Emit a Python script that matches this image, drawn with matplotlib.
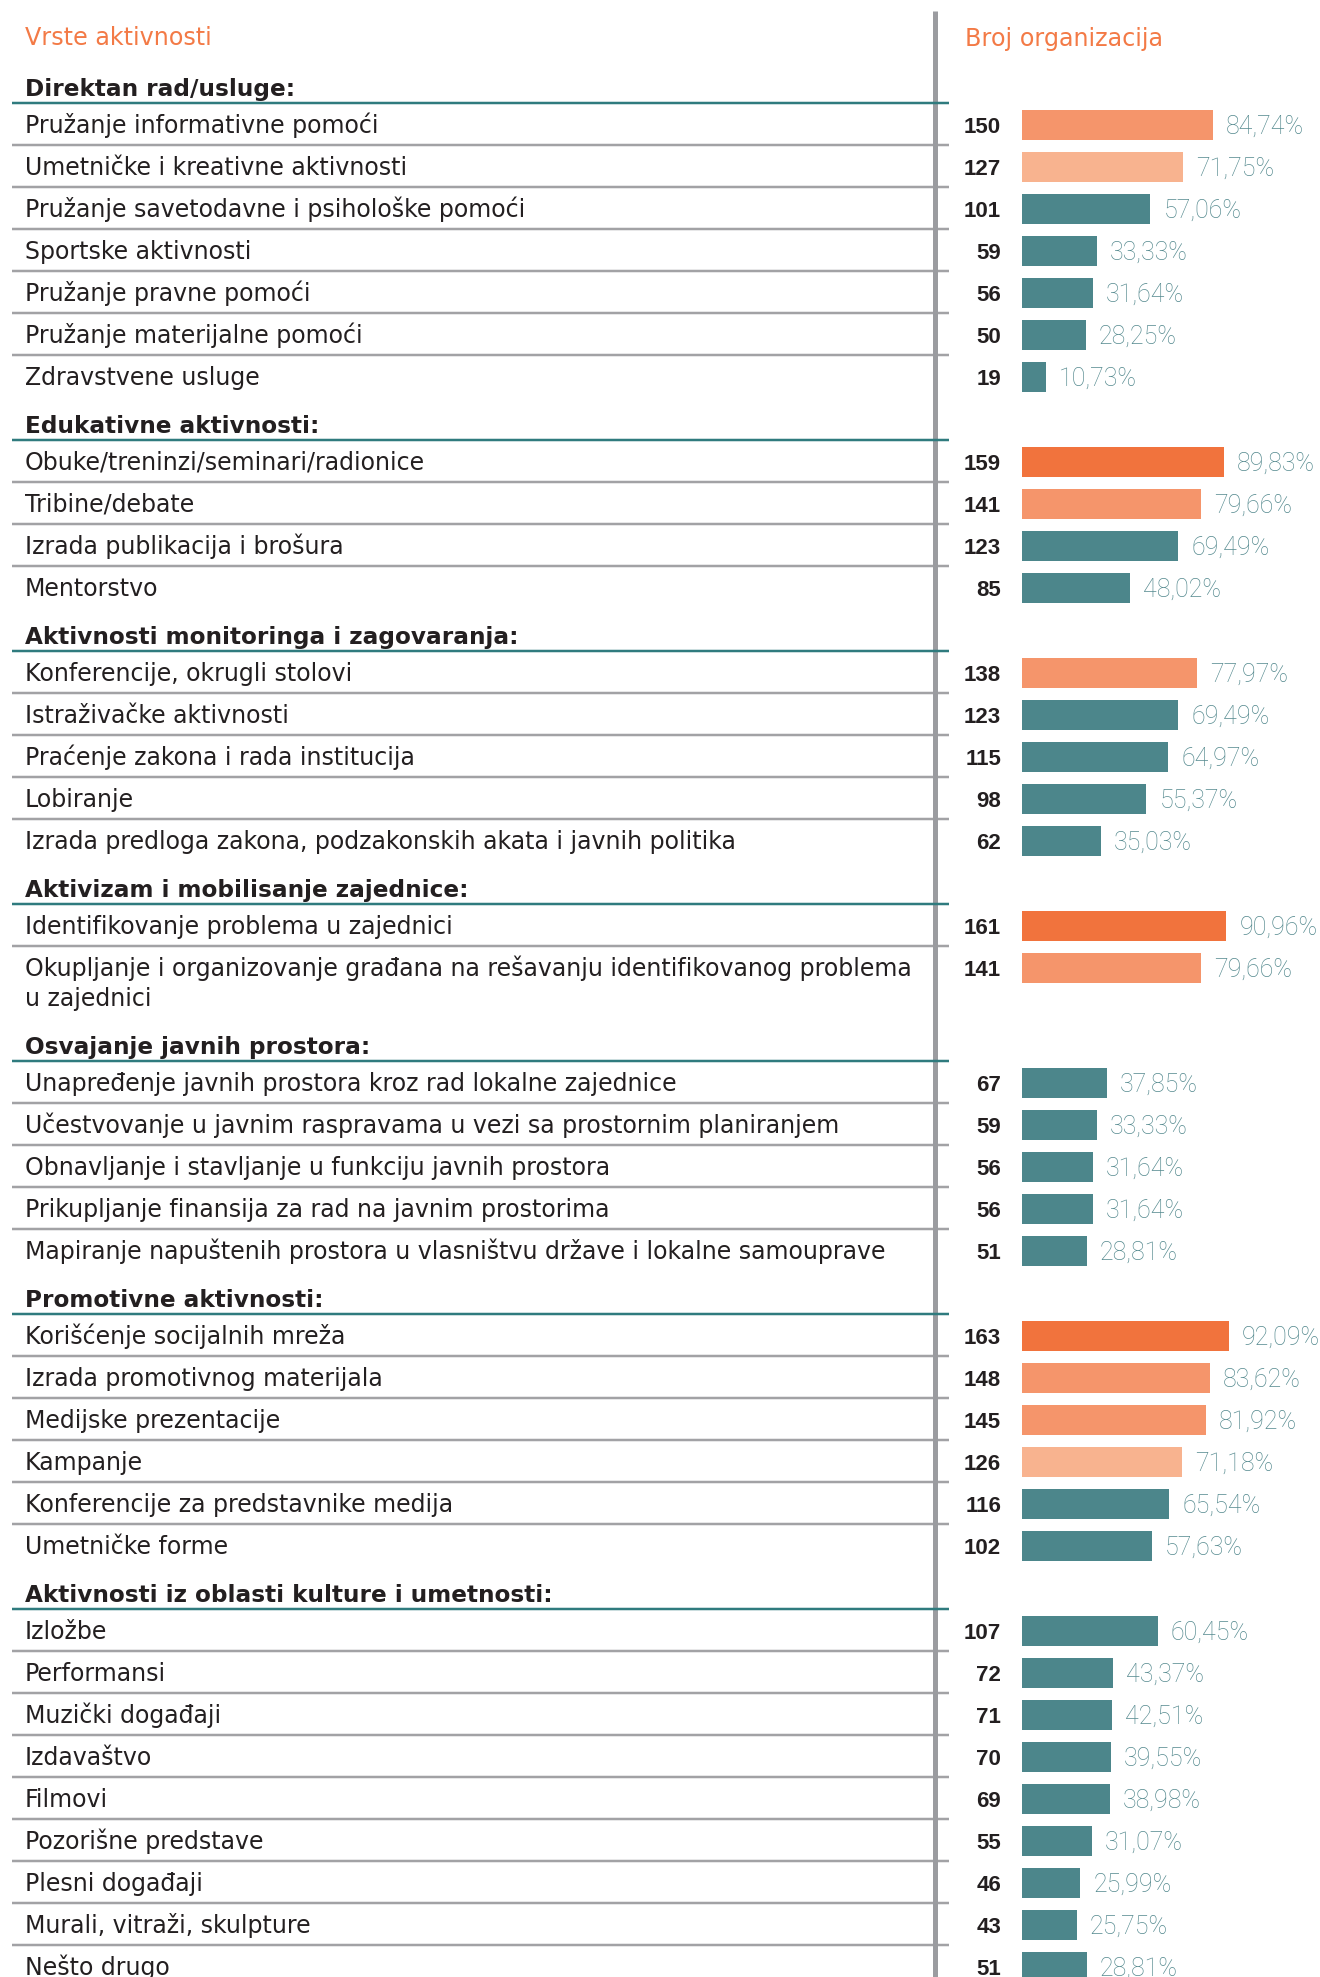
import matplotlib
matplotlib.use("Agg")
import matplotlib.pyplot as plt

# ---------------- data ----------------
group_titles = [
    "Direktan rad/usluge:",
    "Edukativne aktivnosti:",
    "Aktivnosti monitoringa i zagovaranja:",
    "Aktivizam i mobilisanje zajednice:",
    "Osvajanje javnih prostora:",
    "Promotivne aktivnosti:",
    "Aktivnosti iz oblasti kulture i umetnosti:",
]
group_sizes = [7, 4, 5, 2, 5, 6, 9]

activities = [
    "Pružanje informativne pomoći",
    "Umetničke i kreativne aktivnosti",
    "Pružanje savetodavne i psihološke pomoći",
    "Sportske aktivnosti",
    "Pružanje pravne pomoći",
    "Pružanje materijalne pomoći",
    "Zdravstvene usluge",
    "Obuke/treninzi/seminari/radionice",
    "Tribine/debate",
    "Izrada publikacija i brošura",
    "Mentorstvo",
    "Konferencije, okrugli stolovi",
    "Istraživačke aktivnosti",
    "Praćenje zakona i rada institucija",
    "Lobiranje",
    "Izrada predloga zakona, podzakonskih akata i javnih politika",
    "Identifikovanje problema u zajednici",
    "Okupljanje i organizovanje građana na rešavanju identifikovanog problema\nu zajednici",
    "Unapređenje javnih prostora kroz rad lokalne zajednice",
    "Učestvovanje u javnim raspravama u vezi sa prostornim planiranjem",
    "Obnavljanje i stavljanje u funkciju javnih prostora",
    "Prikupljanje finansija za rad na javnim prostorima",
    "Mapiranje napuštenih prostora u vlasništvu države i lokalne samouprave",
    "Korišćenje socijalnih mreža",
    "Izrada promotivnog materijala",
    "Medijske prezentacije",
    "Kampanje",
    "Konferencije za predstavnike medija",
    "Umetničke forme",
    "Izložbe",
    "Performansi",
    "Muzički događaji",
    "Izdavaštvo",
    "Filmovi",
    "Pozorišne predstave",
    "Plesni događaji",
    "Murali, vitraži, skulpture",
    "Nešto drugo",
]

counts = [150, 127, 101, 59, 56, 50, 19,
          159, 141, 123, 85,
          138, 123, 115, 98, 62,
          161, 141,
          67, 59, 56, 56, 51,
          163, 148, 145, 126, 116, 102,
          107, 72, 71, 70, 69, 55, 46, 43, 51]

percents = [84.74, 71.75, 57.06, 33.33, 31.64, 28.25, 10.73,
            89.83, 79.66, 69.49, 48.02,
            77.97, 69.49, 64.97, 55.37, 35.03,
            90.96, 79.66,
            37.85, 33.33, 31.64, 31.64, 28.81,
            92.09, 83.62, 81.92, 71.18, 65.54, 57.63,
            60.45, 43.37, 42.51, 39.55, 38.98, 31.07, 25.99, 25.75, 28.81]

col_title = "Vrste aktivnosti"
col_count = "Broj organizacija"

# ---------------- styles ----------------
W, H = 1320, 1977
DPI = 100
TXT = "#231f20"
ORANGE_T = "#f37a46"
TEAL_LINE = "#2f7b7e"
GRAY_LINE = "#a2a2a5"
VLINE = "#9b9ca0"
PCT_COL = "#54898e"
BODY_FONT = ["DejaVu Sans"]
NUM_FONT = ["Liberation Sans", "DejaVu Sans"]
PCT_FONT = ["Roboto", "DejaVu Sans"]
BODY_SIZE = 17.0
HEAD_SIZE = 16.7


def bar_color(v):
    if v >= 155:
        return "#f1733d"
    if v >= 135:
        return "#f5956b"
    if v >= 125:
        return "#f8b38f"
    return "#4c868b"


PX = 0.72  # points per pixel at 100 dpi
ROW_H = 42
LINE_EXTRA = 30
HEAD_GAP = 43
FIRST_T = 103
BAR_X0 = 1022
PX_PER_UNIT = 1.27

fig = plt.figure(figsize=(W / DPI, H / DPI), dpi=DPI)
fig.patch.set_facecolor("white")

ax = fig.add_axes([0, 0, 1, 1])
ax.set_xlim(0, W)
ax.set_ylim(H, 0)
ax.axis("off")

axb = fig.add_axes([BAR_X0 / W, 0, (W - BAR_X0) / W, 1])
axb.set_xlim(0, (W - BAR_X0) / PX_PER_UNIT)
axb.set_ylim(H, 0)
axb.axis("off")

# column titles
ax.text(25, 45, col_title, color=ORANGE_T, fontsize=17.2, family=BODY_FONT,
        ha="left", va="baseline")
ax.text(965, 46, col_count, color=ORANGE_T, fontsize=17.2, family=BODY_FONT,
        ha="left", va="baseline")

# vertical separator
ax.plot([935, 935], [11, H], color=VLINE, lw=5 * PX, solid_capstyle="butt", zorder=2)

T = FIRST_T
idx = 0
for g, title in enumerate(group_titles):
    ax.text(25, T - 7, title, color=TXT, fontsize=HEAD_SIZE, fontweight="bold",
            family=BODY_FONT, ha="left", va="baseline")
    ax.plot([12, 949], [T, T], color=TEAL_LINE, lw=2.5 * PX,
            solid_capstyle="butt", zorder=3)
    top = T
    n = group_sizes[g]
    for k in range(n):
        label = activities[idx]
        lines = label.split("\n")
        for li, line in enumerate(lines):
            ax.text(25, top + 30 + LINE_EXTRA * li, line, color=TXT, fontsize=BODY_SIZE,
                    family=BODY_FONT, ha="left", va="baseline")
        yc = top + 22
        v = counts[idx]
        axb.barh(yc, v, height=30, left=0, color=bar_color(v), zorder=2)
        axb.annotate(str(v), xy=(0, yc), xytext=(-21, -8),
                     textcoords="offset pixels", ha="right", va="baseline",
                     fontsize=16, fontweight="bold", family=NUM_FONT,
                     color=TXT, annotation_clip=False)
        pct = f"{percents[idx]:.2f}".replace(".", ",") + "%"
        axb.annotate(pct, xy=(v, yc), xytext=(13, -9),
                     textcoords="offset pixels", ha="left", va="baseline",
                     fontsize=18, fontweight="light", family=PCT_FONT,
                     color=PCT_COL, annotation_clip=False)
        bottom = top + ROW_H + LINE_EXTRA * (len(lines) - 1)
        if k < n - 1:
            ax.plot([12, 949], [bottom, bottom], color=GRAY_LINE, lw=2.5 * PX,
                    solid_capstyle="butt", zorder=1)
        top = bottom
        idx += 1
    T = top + HEAD_GAP

fig.savefig("out.png", dpi=DPI, facecolor="white")
